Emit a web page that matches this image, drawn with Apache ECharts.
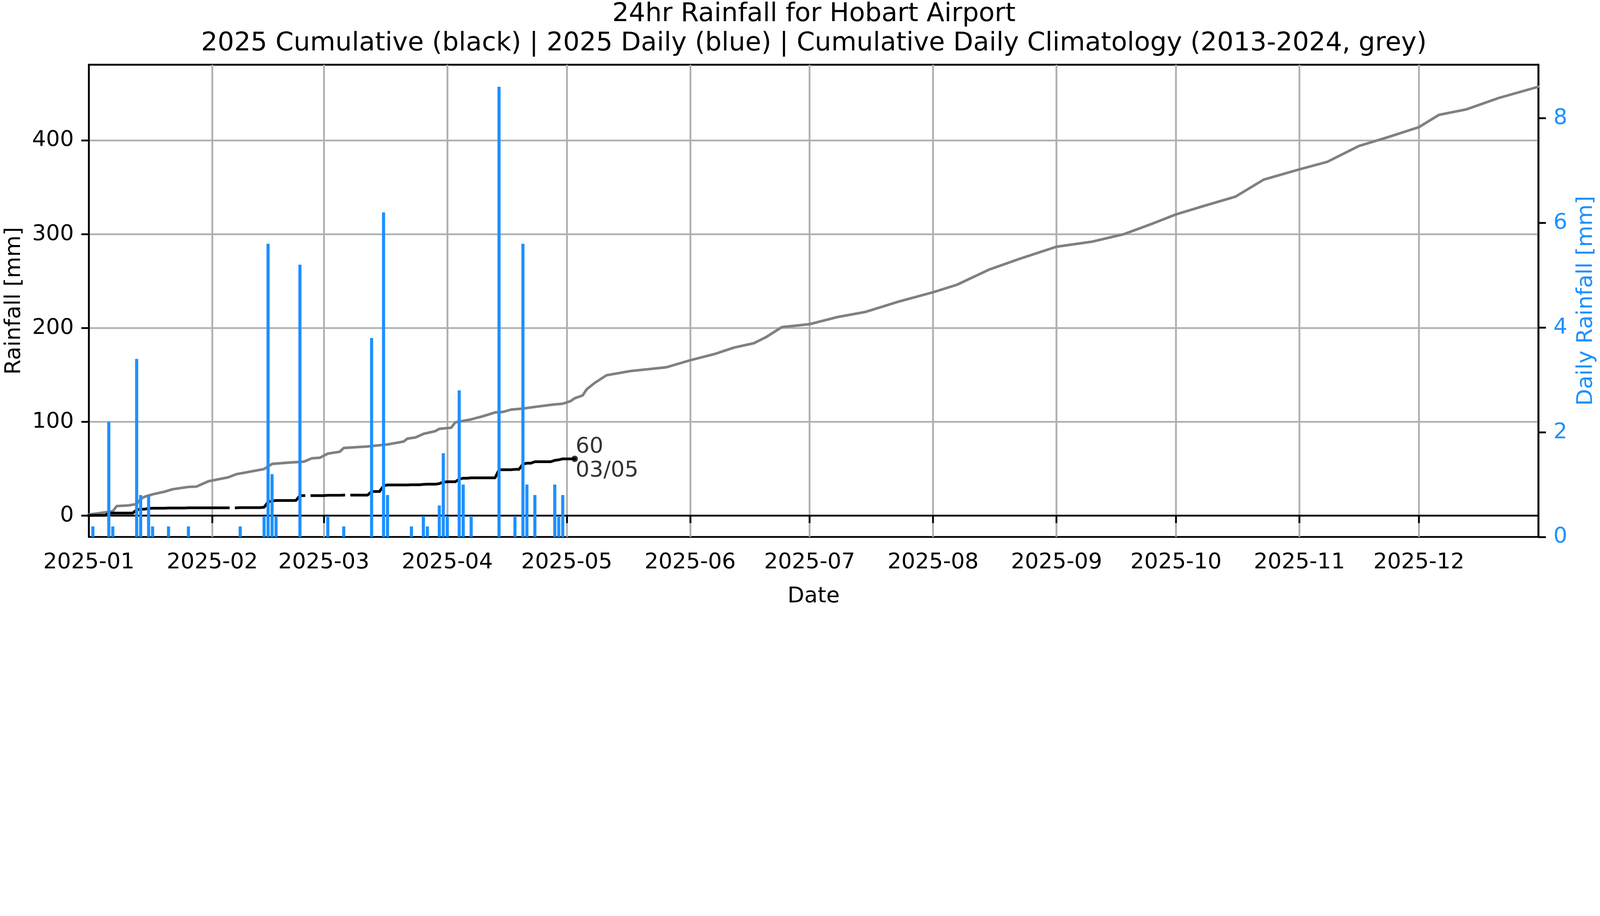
<!DOCTYPE html>
<html>
<head>
<meta charset="utf-8">
<title>24hr Rainfall for Hobart Airport</title>
<script src="https://cdn.jsdelivr.net/npm/echarts@6/dist/echarts.min.js"></script>
<style>
  html, body { margin: 0; padding: 0; background: #fff; overflow: hidden; }
  #chart { position: absolute; left: 0; top: 0; }
</style>
</head>
<body>
<div id="chart"></div>
<script>
// ---------------- DATA ----------------
const titleLines = [
  '24hr Rainfall for Hobart Airport',
  '2025 Cumulative (black) | 2025 Daily (blue) | Cumulative Daily Climatology (2013-2024, grey)'
];
const year = 2025;

// 2025 daily rainfall [mm], 1 Jan .. 3 May (one value per day)
const dailyRain = [
  0, 0.2, 0, 0, 0, 2.2, 0.2, 0, 0, 0,
  0, 0, 3.4, 0.8, 0, 0.8, 0.2, 0, 0, 0,
  0.2, 0, 0, 0, 0, 0.2, 0, 0, 0, 0,
  0, 0, 0, 0, 0, 0, null, 0, 0.2, 0,
  0, 0, 0, 0, 0.4, 5.6, 1.2, 0.4, 0, 0,
  0, 0, 0, 5.2, 0, null, 0, 0, 0, 0,
  0.4, 0, 0, 0, 0.2, null, 0, 0, 0, 0,
  0, 3.8, 0, 0, 6.2, 0.8, 0, 0, 0, 0,
  0, 0.2, 0, 0, 0.4, 0.2, 0, 0, 0.6, 1.6,
  0.4, 0, 0, 2.8, 1.0, 0, 0.4, 0, 0, 0,
  0, 0, 0, 8.6, 0, 0, 0, 0.4, 0, 5.6,
  1.0, 0, 0.8, 0, 0, 0, 0, 1.0, 0.4, 0.8,
  0, 0, 0
];

// 2025 cumulative rainfall [mm], 1 Jan .. 3 May (null = missing day)
const cumRain = [
  0, 0.2, 0.2, 0.2, 0.2, 2.4, 2.6, 2.6, 2.6, 2.6,
  2.6, 2.6, 6.0, 6.8, 6.8, 7.6, 7.8, 7.8, 7.8, 7.8,
  8.0, 8.0, 8.0, 8.0, 8.0, 8.2, 8.2, 8.2, 8.2, 8.2,
  8.2, 8.2, 8.2, 8.2, 8.2, 8.2, null, 8.2, 8.4, 8.4,
  8.4, 8.4, 8.4, 8.4, 8.8, 14.4, 15.6, 16.0, 16.0, 16.0,
  16.0, 16.0, 16.0, 21.2, 21.2, null, 21.2, 21.2, 21.2, 21.2,
  21.6, 21.6, 21.6, 21.6, 21.8, null, 21.8, 21.8, 21.8, 21.8,
  21.8, 25.6, 25.6, 25.6, 31.8, 32.6, 32.6, 32.6, 32.6, 32.6,
  32.6, 32.8, 32.8, 32.8, 33.2, 33.4, 33.4, 33.4, 34.0, 35.6,
  36.0, 36.0, 36.0, 38.8, 39.8, 39.8, 40.2, 40.2, 40.2, 40.2,
  40.2, 40.2, 40.2, 48.8, 48.8, 48.8, 48.8, 49.2, 49.2, 54.8,
  55.8, 55.8, 57.4, 57.4, 57.4, 57.4, 57.4, 58.8, 59.4, 60.4,
  60.4, 60.4, 60.4
];

// Cumulative daily climatology 2013-2024 [mm]: day of year (0 = 1 Jan) and value
const climDay = [
  0, 3, 6, 7, 10, 12, 13, 14, 16, 19, 21, 25, 27, 30, 35, 37, 41, 44, 46, 50,
  54, 56, 58, 60, 63, 64, 70, 75, 79, 80, 82, 84, 87, 88, 91, 92, 96, 99, 102, 104,
  106, 109, 112, 116, 119, 121, 122, 124, 125, 127, 130, 136, 145, 151, 157, 162, 167, 170, 174, 181,
  188, 195, 203, 212, 218, 226, 234, 243, 252, 260, 267, 273, 280, 288, 295, 304, 311, 319, 326, 334,
  339, 346, 354, 364
];
const climVal = [
  1.0, 2.8, 4.6, 10.1, 10.8, 12.3, 17.5, 20.0, 22.6, 25.4, 28.0, 30.5, 30.8, 36.5, 40.7, 44.0, 47.2, 49.6, 55.0, 56.4,
  57.4, 61.0, 61.6, 66.0, 68.0, 72.0, 73.6, 75.8, 78.8, 82.0, 83.2, 87.0, 90.0, 92.4, 93.6, 99.3, 102.5, 105.9, 109.9, 110.4,
  112.9, 114.0, 115.8, 118.0, 119.2, 122.0, 125.0, 128.0, 134.5, 141.3, 149.5, 154, 158, 165.5, 172, 179, 183.7, 190, 200.8, 204,
  211.6, 217, 227.6, 238, 246, 262, 274, 286.5, 292, 300, 311, 321, 330, 340, 358, 369, 377, 394, 403, 414,
  427, 433, 445, 457
];

const leftTicks = [0, 100, 200, 300, 400];
const rightTicks = [0, 2, 4, 6, 8];

// ---------------- BUILD ----------------
// Layout was measured on a 6157 x 2344 canvas; scale to the real window width.
const REF_W = 6157, REF_H = 2344;
const W = window.innerWidth || REF_W;
const S = W / REF_W;
const px = v => v * S;

const el = document.getElementById('chart');
el.style.width = (REF_W * S) + 'px';
el.style.height = (REF_H * S) + 'px';

function pad(n) { return (n < 10 ? '0' : '') + n; }
const dates = [];
for (let t = Date.UTC(year, 0, 1); t <= Date.UTC(year, 11, 31); t += 86400000) {
  const d = new Date(t);
  dates.push(d.getUTCFullYear() + '-' + pad(d.getUTCMonth() + 1) + '-' + pad(d.getUTCDate()));
}
const isMonthStart = (idx, val) => String(val).slice(8) === '01';

const lastIdx = cumRain.length - 1;
const lastVal = cumRain[lastIdx];
const lastDate = dates[lastIdx];
const lastLabel = Math.round(lastVal) + '\n' + lastDate.slice(8, 10) + '/' + lastDate.slice(5, 7);

const FONT = 'DejaVu Sans';
const BLUE = '#1E90FF';
const GRID = '#b0b0b0';
const LW = px(7);
const FS = px(84);

const chart = echarts.init(el, null, { renderer: 'canvas', width: REF_W * S, height: REF_H * S });

const option = {
  animation: false,
  backgroundColor: '#ffffff',
  textStyle: { fontFamily: FONT },
  title: {
    text: titleLines.join('\n'),
    left: px(3132),
    top: px(-2),
    padding: 0,
    textAlign: 'center',
    textStyle: { fontFamily: FONT, fontSize: px(100), lineHeight: px(113), fontWeight: 'normal', color: '#000' }
  },
  grid: {
    left: px(342), right: px(235), top: px(249), bottom: px(248),
    show: true, borderColor: '#000', borderWidth: LW, backgroundColor: 'transparent'
  },
  xAxis: {
    type: 'category',
    data: dates,
    boundaryGap: false,
    name: 'Date',
    nameLocation: 'middle',
    nameGap: px(187),
    nameTextStyle: { fontFamily: FONT, fontSize: FS, color: '#000' },
    axisLine: { lineStyle: { color: '#000', width: LW } },
    axisTick: { show: true, interval: isMonthStart, length: px(29), lineStyle: { color: '#000', width: LW } },
    axisLabel: { interval: isMonthStart, formatter: v => v.slice(0, 7), fontFamily: FONT, fontSize: FS, color: '#000', margin: px(57) },
    splitLine: { show: true, interval: isMonthStart, lineStyle: { color: GRID, width: LW } }
  },
  yAxis: [
    {
      type: 'value',
      position: 'left',
      min: -22.8,
      max: 480.5,
      name: 'Rainfall [mm]',
      nameLocation: 'middle',
      nameGap: px(245),
      nameTextStyle: { fontFamily: FONT, fontSize: FS, color: '#000' },
      axisLine: { show: true, lineStyle: { color: '#000', width: LW } },
      axisTick: { show: true, length: px(29), customValues: leftTicks, lineStyle: { color: '#000', width: LW } },
      axisLabel: { customValues: leftTicks, fontFamily: FONT, fontSize: FS, color: '#000', margin: px(58) },
      splitLine: { show: true, lineStyle: { color: GRID, width: LW } }
    },
    {
      type: 'value',
      position: 'right',
      min: 0,
      max: 9.02,
      name: 'Daily Rainfall [mm]',
      nameLocation: 'middle',
      nameGap: px(141),
      nameTextStyle: { fontFamily: FONT, fontSize: FS, color: BLUE },
      axisLine: { show: true, lineStyle: { color: '#000', width: LW } },
      axisTick: { show: true, length: px(29), customValues: rightTicks, lineStyle: { color: '#000', width: LW } },
      axisLabel: { customValues: rightTicks, fontFamily: FONT, fontSize: FS, color: BLUE, margin: px(58) },
      splitLine: { show: false }
    }
  ],
  series: [
    {
      name: 'Climatology',
      type: 'line',
      yAxisIndex: 0,
      data: climDay.map((d, i) => [d, climVal[i]]),
      showSymbol: false,
      symbol: 'none',
      lineStyle: { color: '#808080', width: px(10), cap: 'square', join: 'round' },
      z: 2
    },
    {
      name: '2025 Cumulative',
      type: 'line',
      yAxisIndex: 0,
      data: cumRain,
      connectNulls: false,
      showSymbol: false,
      symbol: 'none',
      lineStyle: { color: '#000', width: px(10.5), cap: 'square', join: 'round' },
      z: 3
    },
    {
      name: 'Latest',
      type: 'scatter',
      yAxisIndex: 0,
      data: [[lastIdx, lastVal]],
      symbol: 'circle',
      symbolSize: px(25),
      itemStyle: { color: '#000' },
      label: {
        show: true,
        position: 'right',
        distance: px(-9),
        formatter: lastLabel,
        fontFamily: FONT,
        fontSize: FS,
        lineHeight: px(92),
        color: '#000',
        align: 'left',
        verticalAlign: 'middle'
      },
      z: 4
    },
    {
      name: '2025 Daily',
      type: 'bar',
      yAxisIndex: 1,
      data: dailyRain,
      barWidth: px(12),
      itemStyle: { color: BLUE },
      z: 5
    }
  ]
};
chart.setOption(option);
</script>
</body>
</html>
